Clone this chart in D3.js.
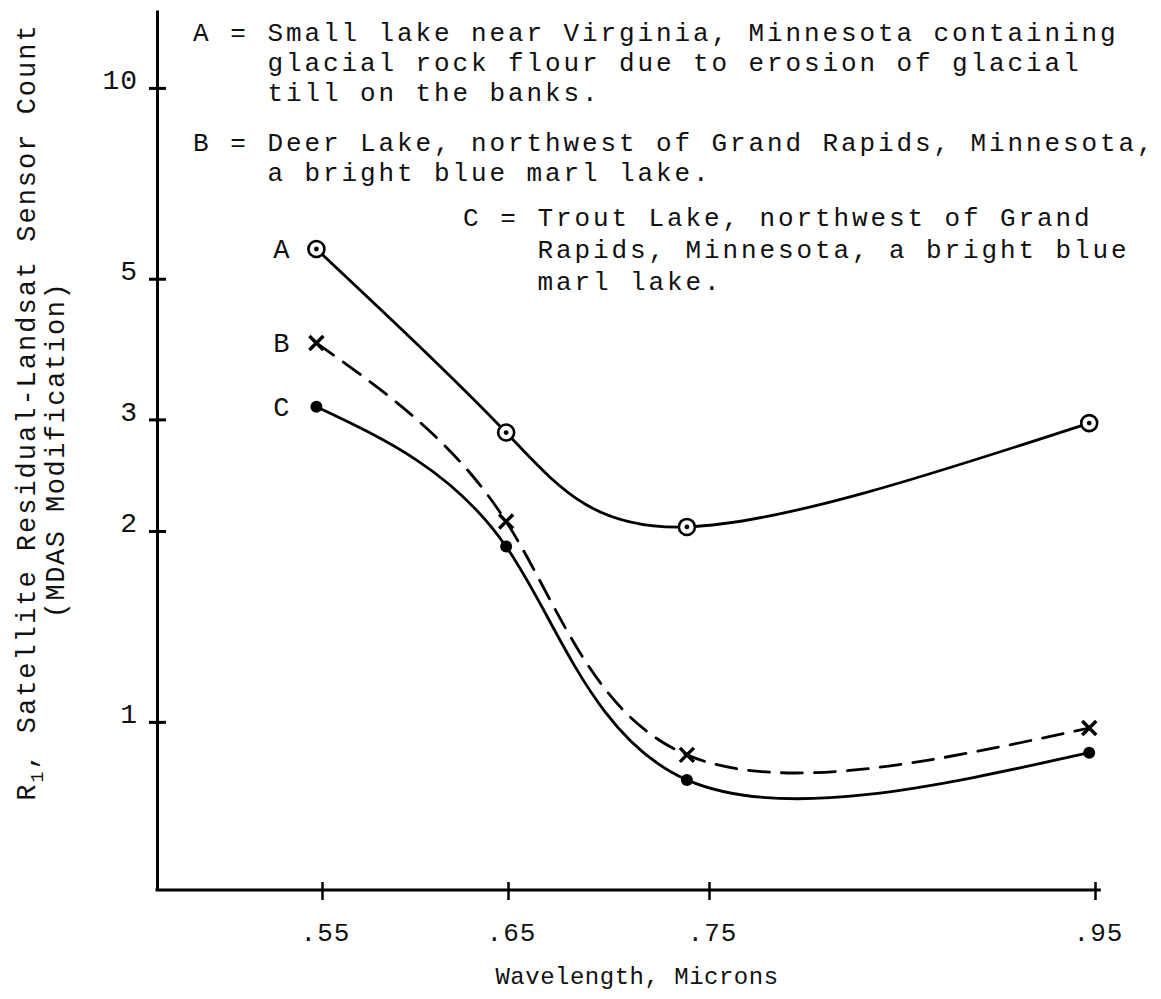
<!DOCTYPE html>
<html><head><meta charset="utf-8">
<script src="https://cdn.jsdelivr.net/npm/d3@7"></script>
<style>
html,body{margin:0;padding:0;background:#fff;}
svg{display:block;}
text{font-family:"Liberation Mono","Courier New",monospace;fill:#111;}
</style></head><body>
<svg id="chart" width="1161" height="999"></svg>
<script>
// ---- data ----
const wavelengths = [0.547, 0.649, 0.739, 0.947];      // plotted positions of the 4 Landsat bands
const tickWavelengths = [0.55, 0.65, 0.75, 0.95];
const tickLabelsX = [".55", ".65", ".75", ".95"];
const yTicks = [1, 2, 3, 5, 10];
const seriesNames = ["A", "B", "C"];
const valuesA = [5.57, 2.86, 2.03, 2.96];
const valuesB = [3.96, 2.07, 0.887, 0.978];
const valuesC = [3.14, 1.89, 0.810, 0.894];
const legendKeys = ["A", "B", "C"];
const legendA = ["Small lake near Virginia, Minnesota containing",
                 "glacial rock flour due to erosion of glacial",
                 "till on the banks."];
const legendB = ["Deer Lake, northwest of Grand Rapids, Minnesota,",
                 "a bright blue marl lake."];
const legendC = ["Trout Lake, northwest of Grand",
                 "Rapids, Minnesota, a bright blue",
                 "marl lake."];
const yTitle1 = ["R", "1", ", Satellite Residual-Landsat Sensor Count"];
const yTitle2 = "(MDAS Modification)";
const xTitle = "Wavelength, Microns";

// ---- layout ----
const svg = d3.select("#chart");
const axisX0 = 157, axisY0 = 890;
const x = d3.scaleLinear().domain(tickWavelengths).range([322, 508, 709, 1095]);
const y = d3.scaleLog().domain([0.543, 13.27]).range([890, 10]);
const FONT = '"Liberation Mono","Courier New",monospace';

// Y axis
const yAxis = d3.axisLeft(y).tickValues(yTicks).tickFormat(d3.format("d")).tickSizeOuter(0).tickSizeInner(8);
const gy = svg.append("g").attr("transform", `translate(${axisX0},0)`).call(yAxis);
gy.select(".domain").attr("stroke", "#000").attr("stroke-width", 3);
gy.selectAll(".tick line").attr("x1", 9).attr("x2", -8).attr("stroke", "#000").attr("stroke-width", 3);
gy.selectAll(".tick text").attr("x", -19).attr("y", -8)
  .style("font-family", FONT).style("font-size", "28px").style("letter-spacing", "1px").attr("fill", "#111");

// X axis
const xAxis = d3.axisBottom(x).tickValues(tickWavelengths).tickFormat((d, i) => tickLabelsX[i]).tickSizeOuter(0).tickSizeInner(10);
const gx = svg.append("g").attr("transform", `translate(0,${axisY0})`).call(xAxis);
gx.select(".domain").remove();
gx.selectAll(".tick line").attr("y1", -8).attr("y2", 10).attr("stroke", "#000").attr("stroke-width", 2.5);
gx.selectAll(".tick text").attr("y", 51).attr("dx", 3).attr("dy", 0)
  .style("font-family", FONT).style("font-size", "26px").style("letter-spacing", "1px").attr("fill", "#222");
svg.append("line").attr("x1", axisX0 - 1.5).attr("x2", x(0.953)).attr("y1", axisY0).attr("y2", axisY0)
  .attr("stroke", "#000").attr("stroke-width", 3);

// axis titles
svg.append("text").attr("x", 637).attr("y", 984).attr("text-anchor", "middle")
  .style("font-size", "24px").style("letter-spacing", "0.5px").attr("fill", "#333").text(xTitle);
const t1 = svg.append("text").attr("transform", "translate(35,412) rotate(-90)").attr("text-anchor", "middle")
  .style("font-size", "27px").style("letter-spacing", "2px").attr("fill", "#333");
t1.append("tspan").text(yTitle1[0]);
t1.append("tspan").attr("dy", 8).style("font-size", "18px").text(yTitle1[1]);
t1.append("tspan").attr("dy", -8).text(yTitle1[2]);
svg.append("text").attr("transform", "translate(64,450) rotate(-90)").attr("text-anchor", "middle")
  .style("font-size", "27px").style("letter-spacing", "1.5px").attr("fill", "#333").text(yTitle2);

// series
const series = [
  {name: seriesNames[0], values: valuesA, dash: null, marker: "ring"},
  {name: seriesNames[1], values: valuesB, dash: "21,12", marker: "cross"},
  {name: seriesNames[2], values: valuesC, dash: null, marker: "dot"}
];
const line = d3.line().x(d => x(d.w)).y(d => y(d.v)).curve(d3.curveNatural);
series.forEach(s => {
  const pts = s.values.map((v, i) => ({w: wavelengths[i], v}));
  svg.append("path").datum(pts).attr("d", line).attr("fill", "none")
    .attr("stroke", "#000").attr("stroke-width", 2.8)
    .attr("stroke-dasharray", s.dash).attr("stroke-linecap", "round");
  const g = svg.append("g");
  pts.forEach(p => {
    const cx = x(p.w), cy = y(p.v);
    if (s.marker === "ring") {
      g.append("circle").attr("cx", cx).attr("cy", cy).attr("r", 8).attr("fill", "#fff").attr("stroke", "#000").attr("stroke-width", 2.6);
      g.append("circle").attr("cx", cx).attr("cy", cy).attr("r", 2.4).attr("fill", "#000");
    } else if (s.marker === "cross") {
      g.append("path").attr("d", `M${cx-7},${cy-7}L${cx+7},${cy+7}M${cx-7},${cy+7}L${cx+7},${cy-7}`)
        .attr("stroke", "#000").attr("stroke-width", 3.4);
    } else {
      g.append("circle").attr("cx", cx).attr("cy", cy).attr("r", 6).attr("fill", "#000");
    }
  });
  // series letter at the start of the curve
  svg.append("text").attr("x", x(pts[0].w) - 27).attr("y", y(pts[0].v) + 9).attr("text-anchor", "end")
    .style("font-size", "27px").text(s.name);
});

// legend text block
const charW = 18.6;
const blocks = [
  {key: legendKeys[0], lines: legendA, x0: 193, y0: 41, dy: 30},
  {key: legendKeys[1], lines: legendB, x0: 193, y0: 151, dy: 30},
  {key: legendKeys[2], lines: legendC, x0: 463, y0: 226, dy: 32}
];
blocks.forEach(b => {
  svg.append("text").attr("x", b.x0).attr("y", b.y0).style("font-size", "26px").style("letter-spacing", "3px").text(b.key + " =");
  b.lines.forEach((ln, i) => {
    svg.append("text").attr("x", b.x0 + 4 * charW).attr("y", b.y0 + i * b.dy)
      .style("font-size", "26px").style("letter-spacing", "2.9px").text(ln);
  });
});
</script>
</body></html>
